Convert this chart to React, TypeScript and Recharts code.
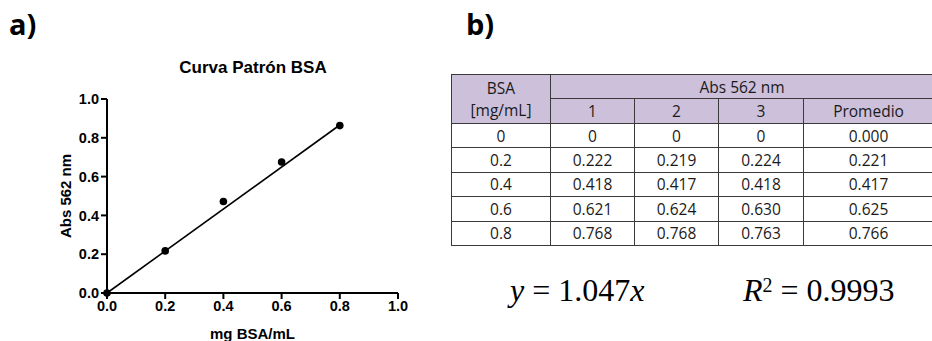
import { ScatterChart, Scatter, XAxis, YAxis } from "recharts"

// standard curve
const concentrations = [0, 0.2, 0.4, 0.6, 0.8]
const absPlotted = [0, 0.217, 0.472, 0.675, 0.863]

// regression line endpoints
const fitX = [0, 0.8]
const fitY = [0, 0.866]

const axisTicks = [0, 0.2, 0.4, 0.6, 0.8, 1.0]

// table b)
const tableBsa = ["0", "0.2", "0.4", "0.6", "0.8"]
const rep1 = ["0", "0.222", "0.418", "0.621", "0.768"]
const rep2 = ["0", "0.219", "0.417", "0.624", "0.768"]
const rep3 = ["0", "0.224", "0.418", "0.630", "0.763"]
const promedio = ["0.000", "0.221", "0.417", "0.625", "0.766"]
const repHeaders = ["1", "2", "3", "Promedio"]
const colWidths = [99, 84, 84, 85, 130]

const arial = "'Liberation Sans', Arial, sans-serif"
const tableFont = "'Open Sans', 'Noto Sans', sans-serif"
const serif = "'Liberation Serif', 'Times New Roman', serif"

const points = concentrations.map((c, i) => ({ x: c, y: absPlotted[i] }))
const fitLine = fitX.map((x, i) => ({ x, y: fitY[i] }))

const cell: React.CSSProperties = {
  border: "1px solid #3a3a3a",
  textAlign: "center",
  padding: 0,
  fontSize: 15.5,
  color: "#1a1a1a",
}

const head: React.CSSProperties = { ...cell, background: "#ccc0da", fontWeight: 400 }

const YLabel = ({ viewBox }: any) => {
  const cx = viewBox.x + 8
  const cy = viewBox.y + viewBox.height / 2
  return (
    <text
      x={cx}
      y={cy}
      transform={`rotate(-90 ${cx} ${cy})`}
      textAnchor="middle"
      dominantBaseline="central"
      fontFamily={arial}
      fontWeight="bold"
      fontSize={15}
      fill="#000"
    >
      Abs 562 nm
    </text>
  )
}

const XLabel = ({ viewBox }: any) => (
  <text
    x={viewBox.x + viewBox.width / 2}
    y={viewBox.y + viewBox.height + 16}
    textAnchor="middle"
    fontFamily={arial}
    fontWeight="bold"
    fontSize={15}
    fill="#000"
  >
    mg BSA/mL
  </text>
)

const tickStyle = { fill: "#000", fontSize: 14.5, fontWeight: "bold", fontFamily: arial }

const panelLabel: React.CSSProperties = {
  position: "absolute",
  top: 4,
  fontFamily: tableFont,
  fontWeight: 700,
  fontSize: 29,
  lineHeight: "40px",
}

export default function App() {
  const rows = tableBsa.map((b, i) => [b, rep1[i], rep2[i], rep3[i], promedio[i]])

  return (
    <div
      style={{
        position: "absolute",
        left: 0,
        top: 0,
        width: 932,
        height: 341,
        overflow: "hidden",
        background: "#fff",
      }}
    >
      <div style={{ ...panelLabel, left: 9 }}>a)</div>
      <div style={{ ...panelLabel, left: 466 }}>b)</div>

      <div
        style={{
          position: "absolute",
          left: 0,
          top: 58,
          width: 506,
          textAlign: "center",
          fontFamily: arial,
          fontWeight: "bold",
          fontSize: 17,
          lineHeight: "20px",
        }}
      >
        Curva Patrón BSA
      </div>

      <div style={{ position: "absolute", left: 0, top: 0 }}>
        <ScatterChart
          width={440}
          height={341}
          margin={{ top: 99, right: 42, bottom: 18, left: 57 }}
        >
          <XAxis
            type="number"
            dataKey="x"
            domain={[0, 1]}
            ticks={axisTicks}
            tickFormatter={(v: number) => v.toFixed(1)}
            height={30}
            tickSize={6}
            axisLine={{ stroke: "#000", strokeWidth: 2 }}
            tickLine={{ stroke: "#000", strokeWidth: 2 }}
            tick={tickStyle}
            label={<XLabel />}
          />
          <YAxis
            type="number"
            dataKey="y"
            domain={[0, 1]}
            ticks={axisTicks}
            tickFormatter={(v: number) => v.toFixed(1)}
            width={50}
            tickSize={6}
            axisLine={{ stroke: "#000", strokeWidth: 2 }}
            tickLine={{ stroke: "#000", strokeWidth: 2 }}
            tick={tickStyle}
            label={<YLabel />}
          />
          <Scatter
            data={fitLine}
            line={{ stroke: "#000", strokeWidth: 1.6 }}
            shape={() => <g />}
            isAnimationActive={false}
          />
          <Scatter
            data={points}
            fill="#000"
            shape={(p: any) => <circle cx={p.cx} cy={p.cy} r={3.8} fill="#000" />}
            isAnimationActive={false}
          />
        </ScatterChart>
      </div>

      <table
        style={{
          position: "absolute",
          left: 451,
          top: 74,
          borderCollapse: "collapse",
          tableLayout: "fixed",
          width: colWidths.reduce((a, b) => a + b, 0),
          fontFamily: tableFont,
        }}
      >
        <colgroup>
          {colWidths.map((w, i) => (
            <col key={i} style={{ width: w }} />
          ))}
        </colgroup>
        <tbody>
          <tr style={{ height: 24 }}>
            <td rowSpan={2} style={{ ...head, lineHeight: "22px" }}>
              BSA
              <br />
              [mg/mL]
            </td>
            <td colSpan={4} style={head}>
              Abs 562 nm
            </td>
          </tr>
          <tr style={{ height: 25 }}>
            {repHeaders.map((h) => (
              <td key={h} style={head}>
                {h}
              </td>
            ))}
          </tr>
          {rows.map((r, i) => (
            <tr key={i} style={{ height: 24.4 }}>
              {r.map((v, j) => (
                <td key={j} style={cell}>
                  {v}
                </td>
              ))}
            </tr>
          ))}
        </tbody>
      </table>

      <div
        style={{
          position: "absolute",
          left: 510,
          top: 274,
          fontFamily: serif,
          fontSize: 32,
          lineHeight: "32px",
          whiteSpace: "nowrap",
        }}
      >
        <i>y</i> = 1.047<i>x</i>
      </div>
      <div
        style={{
          position: "absolute",
          left: 743,
          top: 274,
          fontFamily: serif,
          fontSize: 32,
          lineHeight: "32px",
          whiteSpace: "nowrap",
        }}
      >
        <i>R</i>
        <sup style={{ fontSize: 20, lineHeight: 0, verticalAlign: "0.45em" }}>2</sup> = 0.9993
      </div>
    </div>
  )
}
